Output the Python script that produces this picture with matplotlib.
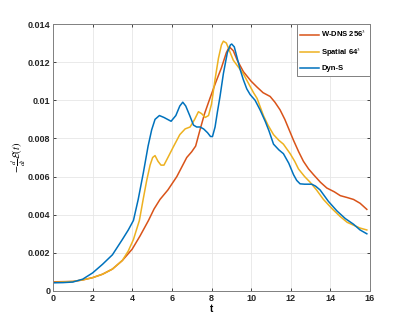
import matplotlib.pyplot as plt
import numpy as np

# W-DNS 256^3
t_dns = [0, 1, 1.5, 2, 2.5, 3, 3.5, 4, 4.4, 4.82, 5.1, 5.4, 5.8, 6.25, 6.5,
         6.75, 7.0, 7.2, 7.42, 7.65, 7.92, 8.2, 8.5, 8.75, 8.9, 9.1, 9.3, 9.61,
         10.0, 10.29, 10.6, 10.96, 11.2, 11.46, 11.7, 11.94, 12.14, 12.4, 12.64,
         12.9, 13.15, 13.5, 13.82, 14.2, 14.5, 14.85, 15.17, 15.5, 15.84]
e_dns = [0.00048, 0.0005, 0.00058, 0.0007, 0.00088, 0.00115, 0.0016, 0.0022,
         0.0029, 0.0037, 0.0043, 0.0048, 0.0053, 0.0060, 0.0065,
         0.0070, 0.0073, 0.0076, 0.00845, 0.0093, 0.0101, 0.0109, 0.0117, 0.0125,
         0.0128, 0.0126, 0.0121, 0.0115,
         0.0110, 0.0107, 0.0104, 0.0102, 0.0099, 0.0095, 0.0090, 0.0084, 0.0079,
         0.0073, 0.0068, 0.0064, 0.0061, 0.0057, 0.0054, 0.0052, 0.0050, 0.0049,
         0.0048, 0.0046, 0.00428]

# Spatial 64^3
t_sp = [0, 1, 1.5, 2, 2.5, 3, 3.5, 3.8, 4.06, 4.36, 4.55, 4.73, 4.9, 5.03,
        5.15, 5.3, 5.45, 5.6, 5.8, 6.08, 6.4, 6.67, 6.92, 7.15, 7.34, 7.5, 7.68,
        7.85, 8.0, 8.18, 8.35, 8.5, 8.6, 8.75, 9.1, 9.6, 10.12, 10.3, 10.62,
        10.85, 11.13, 11.4, 11.63, 11.97, 12.2, 12.39, 12.7, 12.98, 13.3, 13.65,
        14.1, 14.5, 14.85, 15.17, 15.5, 15.84]
e_sp = [0.00045, 0.0005, 0.00058, 0.0007, 0.00088, 0.00115, 0.0016, 0.0021,
        0.0027, 0.0037, 0.0048, 0.0058, 0.0066, 0.0070,
        0.0071, 0.0068, 0.0066, 0.0066, 0.0070, 0.00757, 0.0082, 0.0085, 0.0086,
        0.0090, 0.0094, 0.0093, 0.0091,
        0.0092, 0.0098, 0.0111, 0.0122, 0.0129, 0.0131, 0.0130, 0.0121, 0.0114,
        0.0104, 0.0101, 0.0092,
        0.0087, 0.0082, 0.0079, 0.0077, 0.0072, 0.0068, 0.0064, 0.0060, 0.0057,
        0.0053, 0.0048,
        0.0043, 0.0039, 0.0036, 0.00345, 0.0033, 0.0032]

# Dyn-S
t_dyn = [0, 0.5, 1, 1.5, 2, 2.5, 3, 3.5, 3.8, 4.06, 4.3, 4.56, 4.8, 4.98, 5.15,
         5.37, 5.6, 5.96, 6.2, 6.4, 6.55, 6.7, 6.9, 7.09, 7.25, 7.42, 7.6, 7.8,
         7.95, 8.05, 8.18, 8.3, 8.43, 8.6, 8.8, 8.95, 9.02, 9.15, 9.3, 9.45, 9.6,
         9.78, 9.95, 10.2, 10.45, 10.71, 10.9, 11.13, 11.4, 11.63, 11.9, 12.14,
         12.3, 12.47, 12.7, 13.06, 13.25, 13.48, 13.9, 14.33, 14.75, 15.17, 15.5,
         15.84]
e_dyn = [0.00043, 0.00044, 0.00047, 0.00062, 0.00095, 0.0014, 0.0019, 0.0027,
         0.0032, 0.0037, 0.0048, 0.0062, 0.0076, 0.00845, 0.0090,
         0.0092, 0.0091, 0.0089, 0.0092, 0.0097, 0.0099, 0.0097, 0.0092, 0.0087,
         0.0086, 0.0086, 0.0085, 0.0083,
         0.0081, 0.0081, 0.0086, 0.0094, 0.0102, 0.0114, 0.0125, 0.0129, 0.01295,
         0.0128, 0.0122, 0.0116, 0.0111,
         0.0106, 0.0103, 0.0100, 0.0095, 0.0089, 0.0084, 0.0077, 0.0074, 0.0072,
         0.0067, 0.0061,
         0.0058, 0.00562, 0.0056, 0.0056, 0.0055, 0.0053, 0.0047, 0.0042, 0.0038,
         0.0035, 0.0032, 0.0030]

plt.rcParams['font.family'] = ['Liberation Sans', 'DejaVu Sans']
plt.rcParams['mathtext.fontset'] = 'stix'

fig = plt.figure(figsize=(4.09, 3.27), dpi=100)
ax = fig.add_axes([53 / 409, 1 - 291 / 327, 317 / 409, 267 / 327])

ax.plot(t_dns, e_dns, color='#D95319', lw=1.1, label='W-DNS 256$^3$')
ax.plot(t_sp, e_sp, color='#EDB120', lw=1.1, label='Spatial 64$^3$')
ax.plot(t_dyn, e_dyn, color='#0072BD', lw=1.1, label='Dyn-S')

ax.set_xlim(0, 16)
ax.set_ylim(0, 0.014)
ax.set_xticks(np.arange(0, 17, 2))
ax.set_yticks(np.arange(0, 0.0141, 0.002))
ax.set_yticklabels(['0', '0.002', '0.004', '0.006', '0.008', '0.01', '0.012', '0.014'])
ax.grid(color='#e6e6e6', lw=0.6)
ax.tick_params(direction='in', length=2.5, width=0.6, labelsize=6.5,
               top=True, right=True, colors='#262626', pad=2)
for lab in ax.get_xticklabels() + ax.get_yticklabels():
    lab.set_fontweight('bold')
for s in ax.spines.values():
    s.set_color('#808080')
    s.set_linewidth(0.7)

ax.set_xlabel('t', fontsize=7, fontweight='bold', labelpad=1)
ax.set_ylabel(r'$-\frac{d}{dt}\mathcal{E}(t)$', fontsize=7.5, labelpad=0)

leg = ax.legend(loc='upper right', fontsize=5.5, fancybox=False, framealpha=1,
                edgecolor='#808080', handlelength=2.4, handletextpad=0.3,
                borderaxespad=0, labelspacing=0.8, borderpad=0.5)
leg.get_frame().set_linewidth(0.7)
for txt in leg.get_texts():
    txt.set_fontweight('bold')

fig.savefig('out.png', dpi=100)
